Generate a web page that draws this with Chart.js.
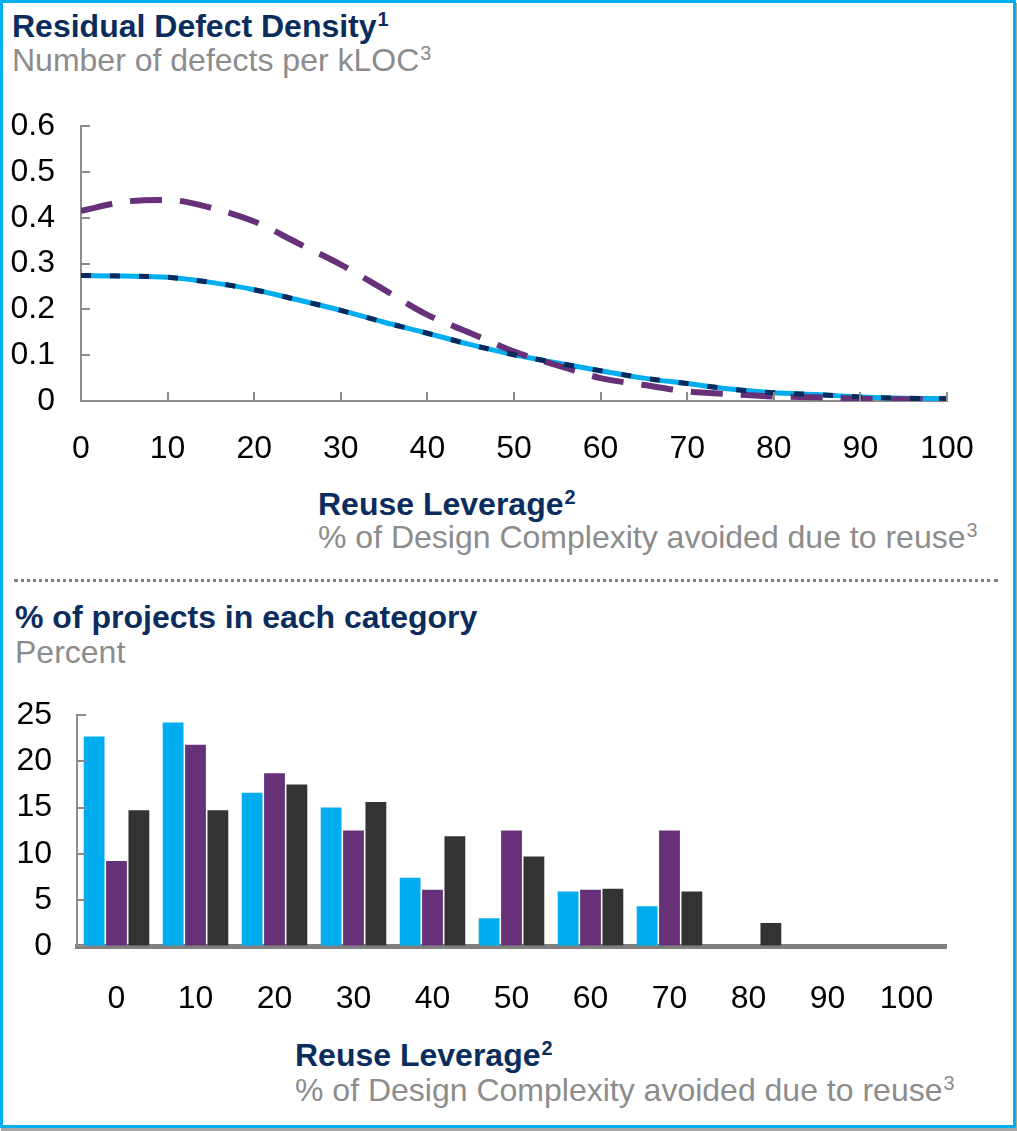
<!DOCTYPE html>
<html>
<head>
<meta charset="utf-8">
<script src="https://cdn.jsdelivr.net/npm/chart.js@4.4.0/dist/chart.umd.min.js"></script>
<style>
  body { margin: 0; background: #fff; font-family: "Liberation Sans", Arial, sans-serif; }
  .frame { position: absolute; left: 0; top: 0; width: 1016px; height: 1128px; box-sizing: border-box;
           border: 3px solid #00B0F0; box-shadow: 1px 3px 1px rgba(0,0,0,0.35); }
  .txt { position: absolute; font-size: 32px; line-height: 32px; white-space: nowrap; }
  .head { color: #0B2D5E; font-weight: bold; }
  .sub { color: #8C8C8C; }
  .txt sup { font-size: 0.62em; vertical-align: 0.55em; line-height: 0; margin-left: 1px; }
  .dots { position: absolute; left: 14px; top: 579px; width: 984px; border-top: 3px dotted #7F7F7F; }
  canvas { position: absolute; left: 0; }
</style>
</head>
<body>
<div class="frame"></div>

<div class="txt head" style="left:12px; top:10px;">Residual Defect Density<sup>1</sup></div>
<div class="txt sub" style="left:12px; top:44px;">Number of defects per kLOC<sup>3</sup></div>
<canvas id="density" width="1017" height="399" style="top:81px;"></canvas>
<div class="txt head" style="left:318px; top:488px;">Reuse Leverage<sup>2</sup></div>
<div class="txt sub" style="left:318px; top:521px;">% of Design Complexity avoided due to reuse<sup>3</sup></div>

<div class="dots"></div>

<div class="txt head" style="left:15px; top:601px;">% of projects in each category</div>
<div class="txt sub" style="left:15px; top:636px;">Percent</div>
<canvas id="share" width="1017" height="359" style="top:671px;"></canvas>
<div class="txt head" style="left:295px; top:1039px;">Reuse Leverage<sup>2</sup></div>
<div class="txt sub" style="left:295px; top:1074px;">% of Design Complexity avoided due to reuse<sup>3</sup></div>

<script>
// top chart: residual defect density vs reuse leverage
const reuseX = [0, 5, 10, 15, 20, 25, 30, 35, 40, 45, 50, 55, 60, 65, 70, 75, 80, 85, 90, 95, 100];
const densityBlue = [0.274, 0.273, 0.270, 0.259, 0.243, 0.221, 0.198, 0.172, 0.148, 0.123, 0.101,
                     0.083, 0.066, 0.050, 0.038, 0.026, 0.018, 0.014, 0.009, 0.006, 0.005];
const densityPurple = [0.415, 0.435, 0.439, 0.422, 0.392, 0.345, 0.298, 0.243, 0.188, 0.148, 0.108,
                       0.078, 0.050, 0.035, 0.021, 0.015, 0.010, 0.008, 0.005, 0.004, 0.004];

// bottom chart: % of projects in each category
const reuseBins = ['0', '10', '20', '30', '40', '50', '60', '70', '80', '90', '100'];
const shareBlue = [22.7, 24.2, 16.6, 15.0, 7.4, 3.0, 5.9, 4.3, 0, 0, 0];
const sharePurple = [9.2, 21.8, 18.7, 12.5, 6.1, 12.5, 6.1, 12.5, 0, 0, 0];
const shareGrey = [14.7, 14.7, 17.5, 15.6, 11.9, 9.7, 6.2, 5.9, 2.5, 0, 0];

const CYAN = '#00AEEF', PURPLE = '#663179', NAVY = '#0A2A5C', GREY = '#333333', AXIS = '#8C8C8C';

Chart.defaults.font.family = '"Liberation Sans", Arial, sans-serif';
Chart.defaults.font.size = 32;
Chart.defaults.color = '#000';

// tick marks pointing into the plot area
const innerTicks = {
    id: 'innerTicks',
    afterDatasetsDraw(chart, args, opts) {
        const ctx = chart.ctx;
        ctx.save();
        ctx.strokeStyle = opts.color;
        ctx.lineWidth = opts.width;
        (opts.axes || []).forEach(id => {
            const s = chart.scales[id];
            s.ticks.forEach(t => {
                const p = Math.round(s.getPixelForValue(t.value));
                ctx.beginPath();
                if (s.isHorizontal()) {
                    ctx.moveTo(p, s.top);
                    ctx.lineTo(p, s.top - opts.length);
                } else {
                    ctx.moveTo(s.right, p);
                    ctx.lineTo(s.right + opts.length, p);
                }
                ctx.stroke();
            });
        });
        ctx.restore();
    }
};

const toPoints = arr => arr.map((v, i) => ({ x: reuseX[i], y: v }));

new Chart(document.getElementById('density').getContext('2d'), {
    type: 'line',
    data: {
        datasets: [
            { data: toPoints(densityBlue), borderColor: NAVY, borderWidth: 5, borderDash: [10, 19], order: 0 },
            { data: toPoints(densityPurple), borderColor: PURPLE, borderWidth: 6, borderDash: [32, 18], order: 1 },
            { data: toPoints(densityBlue), borderColor: CYAN, borderWidth: 5, order: 2 }
        ]
    },
    options: {
        responsive: false,
        animation: false,
        layout: { padding: { top: 5, right: 70 } },
        elements: {
            point: { radius: 0 },
            line: { tension: 0.4, cubicInterpolationMode: 'monotone', borderCapStyle: 'butt', fill: false }
        },
        plugins: {
            legend: { display: false },
            tooltip: { enabled: false },
            innerTicks: { axes: ['x', 'y'], color: AXIS, width: 2, length: 9 }
        },
        scales: {
            x: {
                type: 'linear', min: 0, max: 100,
                ticks: { stepSize: 10, padding: 29, maxRotation: 0 },
                grid: { drawOnChartArea: false, drawTicks: false },
                border: { color: AXIS, width: 2 },
                afterFit: s => { s.height = 79; }
            },
            y: {
                min: 0, max: 0.6,
                ticks: { stepSize: 0.1, padding: 26 },
                grid: { drawOnChartArea: false, drawTicks: false },
                border: { color: AXIS, width: 2 },
                afterFit: s => { s.width = 81; }
            }
        }
    },
    plugins: [innerTicks]
});

new Chart(document.getElementById('share').getContext('2d'), {
    type: 'bar',
    data: {
        labels: reuseBins,
        datasets: [
            { data: shareBlue, backgroundColor: CYAN },
            { data: sharePurple, backgroundColor: PURPLE },
            { data: shareGrey, backgroundColor: GREY }
        ]
    },
    options: {
        responsive: false,
        animation: false,
        layout: { padding: { top: 5, right: 71 } },
        datasets: { bar: { categoryPercentage: 0.85, barPercentage: 0.93 } },
        plugins: {
            legend: { display: false },
            tooltip: { enabled: false },
            innerTicks: { axes: ['y'], color: AXIS, width: 2, length: 9 }
        },
        scales: {
            x: {
                ticks: { padding: 34, maxRotation: 0 },
                grid: { display: false, drawTicks: false },
                border: { color: '#808080', width: 5 },
                afterFit: s => { s.height = 84; }
            },
            y: {
                min: 0, max: 25,
                ticks: { stepSize: 5, padding: 25 },
                grid: { drawOnChartArea: false, drawTicks: false },
                border: { color: AXIS, width: 2 },
                afterFit: s => { s.width = 77; }
            }
        }
    },
    plugins: [innerTicks]
});
</script>
</body>
</html>
